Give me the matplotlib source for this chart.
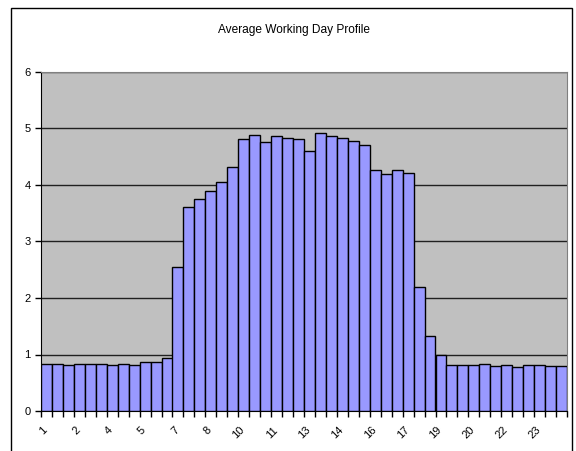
import numpy as np
import matplotlib.pyplot as plt
from matplotlib.patches import Rectangle

# half-hourly values, 48 periods
values = [0.84, 0.84, 0.82, 0.84, 0.84, 0.84, 0.82, 0.84, 0.82, 0.86, 0.86, 0.94,
          2.54, 3.61, 3.76, 3.90, 4.06, 4.32, 4.82, 4.88, 4.76, 4.86, 4.84, 4.82,
          4.60, 4.92, 4.86, 4.84, 4.77, 4.71, 4.26, 4.20, 4.26, 4.22, 2.19, 1.33,
          1.00, 0.82, 0.82, 0.82, 0.84, 0.80, 0.82, 0.78, 0.82, 0.82, 0.80, 0.80]
hours = [str(i // 2 + 1) for i in range(48)]
label_step = 3

fig = plt.figure(figsize=(5.76, 4.51), dpi=100)
plt.rcParams['font.family'] = ['Liberation Sans', 'DejaVu Sans']

# chart area border
fig.patches.append(Rectangle((11 / 576, -0.05), 561 / 576, 1.05 - 8 / 451,
                             transform=fig.transFigure, fill=False,
                             edgecolor='black', linewidth=1.0))

ax = fig.add_axes([41 / 576, 40 / 451, 526 / 576, 339 / 451])
ax.set_facecolor('#C0C0C0')

x = np.arange(len(values))
ax.bar(x, values, width=1.0, color='#9999FF', edgecolor='black', linewidth=1.0, zorder=3)

ax.set_xlim(-0.5, len(values) - 0.5)
ax.set_ylim(0, 6)
ax.set_yticks(range(0, 7))
ax.yaxis.grid(True, color='#202020', linewidth=1.0, zorder=1)

# labels sit a little left of the bar centre, like Excel does
ax.set_xticks(x[::label_step] - 0.4)
ax.set_xticklabels(hours[::label_step], rotation=45, ha='right',
                   rotation_mode='anchor', fontsize=8)
ax.set_xticks(np.arange(-0.5, len(values)), minor=True)
ax.tick_params(axis='x', which='major', length=0, pad=10)
ax.tick_params(axis='x', which='minor', length=4, direction='out', width=1)
ax.tick_params(axis='y', length=4, direction='out', labelsize=8, width=1)

for side in ['top', 'right']:
    ax.spines[side].set_color('#808080')
ax.spines['left'].set_color('black')
ax.spines['bottom'].set_color('black')

fig.text(294 / 576, 1 - 30 / 451, 'Average Working Day Profile',
         ha='center', va='center', fontsize=8.6)

fig.savefig('out.png', dpi=100)
